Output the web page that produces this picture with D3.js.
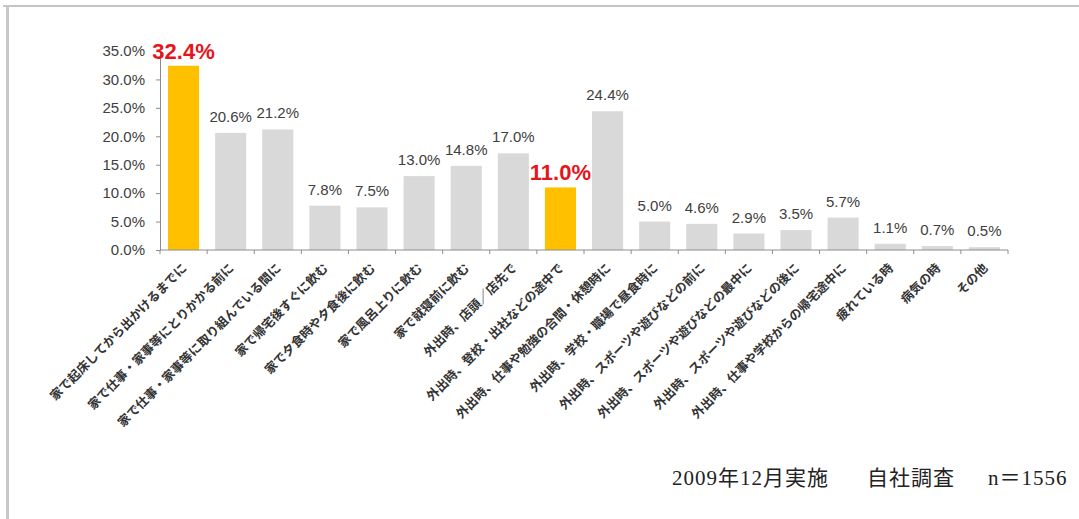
<!DOCTYPE html>
<html>
<head>
<meta charset="utf-8">
<script src="https://cdn.jsdelivr.net/npm/d3@7"></script>
<style>
  body { margin: 0; background: #fff; }
  svg { display: block; }
</style>
</head>
<body>
<svg width="1079" height="519"></svg>
<script>
// categories (answer options) and their shares in %
const categories = [
  "家で起床してから出かけるまでに",
  "家で仕事・家事等にとりかかる前に",
  "家で仕事・家事等に取り組んでいる間に",
  "家で帰宅後すぐに飲む",
  "家で夕食時や夕食後に飲む",
  "家で風呂上りに飲む",
  "家で就寝前に飲む",
  "外出時、店頭／店先で",
  "外出時、登校・出社などの途中で",
  "外出時、仕事や勉強の合間・休憩時に",
  "外出時、学校・職場で昼食時に",
  "外出時、スポーツや遊びなどの前に",
  "外出時、スポーツや遊びなどの最中に",
  "外出時、スポーツや遊びなどの後に",
  "外出時、仕事や学校からの帰宅途中に",
  "疲れている時",
  "病気の時",
  "その他"
];
const values = [32.4, 20.6, 21.2, 7.8, 7.5, 13.0, 14.8, 17.0, 11.0, 24.4, 5.0, 4.6, 2.9, 3.5, 5.7, 1.1, 0.7, 0.5];
const highlighted = ["家で起床してから出かけるまでに", "外出時、登校・出社などの途中で"];
const yTicks = [0, 5, 10, 15, 20, 25, 30, 35];
const footnote = ["2009年12月実施", "自社調査", "n＝1556"];

const data = categories.map((c, i) => ({cat: c, value: values[i], hi: highlighted.includes(c)}));

const svg = d3.select("svg");

// frame of the original screenshot (only top and left edges visible)
svg.append("line").attr("x1", 3).attr("x2", 1079).attr("y1", 6).attr("y2", 6)
  .attr("stroke", "#c4c4c4").attr("stroke-width", 2);
svg.append("line").attr("x1", 7.5).attr("x2", 7.5).attr("y1", 6).attr("y2", 519)
  .attr("stroke", "#c8c8c8").attr("stroke-width", 3);

const x = d3.scaleBand()
  .domain(categories)
  .range([160, 1008])
  .paddingInner(0.34)
  .paddingOuter(0.17);

const y = d3.scaleLinear()
  .domain([0, 35])
  .range([250, 51]);

const g = svg.append("g");

// y axis
const yAxis = g.append("g")
  .attr("transform", "translate(160,0)")
  .call(d3.axisLeft(y).tickValues(yTicks).tickSize(4).tickFormat(d => d.toFixed(1) + "%"));
yAxis.select(".domain").attr("stroke", "#8c8c8c");
yAxis.selectAll(".tick line").attr("stroke", "#8c8c8c");
yAxis.selectAll("text")
  .attr("fill", "#404040")
  .style("font", "15px 'Liberation Sans', Arial, sans-serif")
  .attr("x", -15);

// bars
g.selectAll("rect.bar")
  .data(data)
  .join("rect")
  .attr("class", "bar")
  .attr("x", d => x(d.cat))
  .attr("width", x.bandwidth())
  .attr("y", d => y(d.value))
  .attr("height", d => y(0) - y(d.value))
  .attr("fill", d => d.hi ? "#ffc000" : "#d9d9d9");

// x axis
const xAxis = g.append("g")
  .attr("transform", "translate(0,250)");
xAxis.append("line")
  .attr("x1", 160).attr("x2", 1008)
  .attr("stroke", "#8c8c8c");
const step = x.step();
xAxis.selectAll("line.tk")
  .data(d3.range(categories.length + 1))
  .join("line")
  .attr("class", "tk")
  .attr("x1", i => 160 + i * step).attr("x2", i => 160 + i * step)
  .attr("y1", 0).attr("y2", 4)
  .attr("stroke", "#8c8c8c");

// value labels
g.selectAll("text.val")
  .data(data)
  .join("text")
  .attr("class", "val")
  .attr("x", d => x(d.cat) + x.bandwidth() / 2)
  .attr("y", d => y(d.value) - (d.hi ? 7 : 11))
  .attr("text-anchor", "middle")
  .attr("fill", d => d.hi ? "#e8141c" : "#404040")
  .style("font-family", "'Liberation Sans', Arial, sans-serif")
  .style("font-size", d => d.hi ? "22px" : "15px")
  .style("font-weight", d => d.hi ? "bold" : "normal")
  .text(d => d.value.toFixed(1) + "%");

// category labels, rotated
g.selectAll("text.cat")
  .data(data)
  .join("text")
  .attr("class", "cat")
  .attr("transform", d => `translate(${x(d.cat) + x.bandwidth() / 2 + 4},269) rotate(-45)`)
  .attr("text-anchor", "end")
  .attr("fill", "#333")
  .style("font", "bold 12.5px 'Noto Sans CJK JP', sans-serif")
  .text(d => d.cat);

// footnote
const fx = [672, 867, 988];
svg.selectAll("text.foot")
  .data(footnote)
  .join("text")
  .attr("class", "foot")
  .attr("x", (d, i) => fx[i])
  .attr("y", 485)
  .attr("fill", "#222")
  .style("font", "21px 'Liberation Serif', 'Noto Sans CJK JP', serif")
  .style("letter-spacing", "1px")
  .text(d => d);
</script>
</body>
</html>
